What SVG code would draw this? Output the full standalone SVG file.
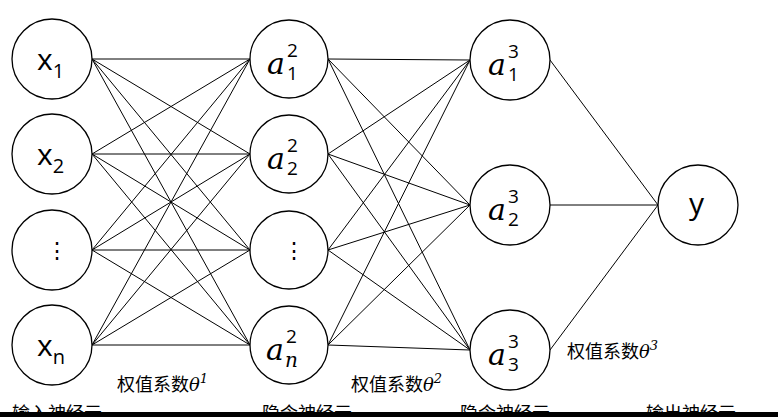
<svg xmlns="http://www.w3.org/2000/svg" width="778" height="417" viewBox="0 0 778 417">
<style>
circle{fill:#fff;stroke:#000;stroke-width:1.3}
line{stroke:#000;stroke-width:1}
.x{font-family:"Open Sans","DejaVu Sans",sans-serif;font-size:30px}
.xs{font-size:20px}
.d{font-family:"Open Sans",sans-serif;font-size:22px}
.a{font-family:"DejaVu Serif","Liberation Serif",serif;font-style:italic;font-size:30px}
.as{font-family:"Open Sans",sans-serif;font-style:normal;font-size:19px}
.c{font-family:"Noto Sans CJK SC",sans-serif;font-size:18px}
.t{font-family:"DejaVu Serif",serif;font-style:italic;font-size:18px}
</style>
<rect width="778" height="417" fill="#fff"/>
<g id="connectors">
<line x1="92" y1="59" x2="250" y2="59"/><line x1="92" y1="59" x2="250" y2="154"/><line x1="92" y1="59" x2="250" y2="250"/><line x1="92" y1="59" x2="250" y2="345"/>
<line x1="92" y1="154" x2="250" y2="59"/><line x1="92" y1="154" x2="250" y2="154"/><line x1="92" y1="154" x2="250" y2="250"/><line x1="92" y1="154" x2="250" y2="345"/>
<line x1="92" y1="250" x2="250" y2="59"/><line x1="92" y1="250" x2="250" y2="154"/><line x1="92" y1="250" x2="250" y2="250"/><line x1="92" y1="250" x2="250" y2="345"/>
<line x1="92" y1="345" x2="250" y2="59"/><line x1="92" y1="345" x2="250" y2="154"/><line x1="92" y1="345" x2="250" y2="250"/><line x1="92" y1="345" x2="250" y2="345"/>
<line x1="328" y1="59" x2="470" y2="60"/><line x1="328" y1="59" x2="470" y2="205"/><line x1="328" y1="59" x2="470" y2="350"/>
<line x1="328" y1="154" x2="470" y2="60"/><line x1="328" y1="154" x2="470" y2="205"/><line x1="328" y1="154" x2="470" y2="350"/>
<line x1="328" y1="250" x2="470" y2="60"/><line x1="328" y1="250" x2="470" y2="205"/><line x1="328" y1="250" x2="470" y2="350"/>
<line x1="328" y1="345" x2="470" y2="60"/><line x1="328" y1="345" x2="470" y2="205"/><line x1="328" y1="345" x2="470" y2="350"/>
<line x1="550" y1="60" x2="658" y2="205"/><line x1="550" y1="205" x2="658" y2="205"/><line x1="550" y1="350" x2="658" y2="205"/>
</g>
<g id="x1"><circle cx="52" cy="59" r="40"/><text class="x" x="37" y="70">x<tspan class="xs" dy="8">1</tspan></text></g>
<g id="x2"><circle cx="52" cy="154" r="40"/><text class="x" x="37" y="165">x<tspan class="xs" dy="8">2</tspan></text></g>
<g id="x3"><circle cx="52" cy="250" r="40"/><text class="d" x="46" y="258">⋮</text></g>
<g id="xn"><circle cx="52" cy="345" r="40"/><text class="x" x="37" y="356">x<tspan class="xs" dy="8">n</tspan></text></g>
<g id="a21"><circle cx="289" cy="59" r="39"/><text class="a" x="267" y="74">a</text><text class="as" x="287" y="57">2</text><text class="as" x="287" y="80">1</text></g>
<g id="a22"><circle cx="289" cy="154" r="39"/><text class="a" x="267" y="169">a</text><text class="as" x="287" y="152">2</text><text class="as" x="287" y="175">2</text></g>
<g id="a23"><circle cx="289" cy="250" r="39"/><text class="d" x="283" y="258">⋮</text></g>
<g id="a2n"><circle cx="289" cy="345" r="39"/><text class="a" x="266" y="360">a</text><text class="as" x="286" y="343">2</text><text class="a" x="285" y="367" style="font-size:20px">n</text></g>
<g id="a31"><circle cx="510" cy="60" r="40"/><text class="a" x="488" y="75">a</text><text class="as" x="508" y="58">3</text><text class="as" x="508" y="81">1</text></g>
<g id="a32"><circle cx="510" cy="205" r="40"/><text class="a" x="488" y="220">a</text><text class="as" x="508" y="203">3</text><text class="as" x="508" y="226">2</text></g>
<g id="a33"><circle cx="510" cy="350" r="40"/><text class="a" x="488" y="365">a</text><text class="as" x="508" y="348">3</text><text class="as" x="508" y="371">3</text></g>
<g id="y"><circle cx="698" cy="205" r="40"/><text class="x" x="689" y="214">y</text></g>
<g id="labels">
<text class="c" x="117" y="391">权值系数<tspan class="t">θ</tspan><tspan class="t" dy="-8" style="font-size:13px">1</tspan></text>
<text class="c" x="351" y="391">权值系数<tspan class="t">θ</tspan><tspan class="t" dy="-8" style="font-size:13px">2</tspan></text>
<text class="c" x="567" y="358">权值系数<tspan class="t">θ</tspan><tspan class="t" dy="-8" style="font-size:13px">3</tspan></text>
<text class="c" x="12" y="420">输入神经元</text>
<text class="c" x="262" y="420">隐含神经元</text>
<text class="c" x="460" y="420">隐含神经元</text>
<text class="c" x="646" y="420">输出神经元</text>
</g>
<rect x="0" y="412" width="778" height="5" fill="#000"/>
</svg>
